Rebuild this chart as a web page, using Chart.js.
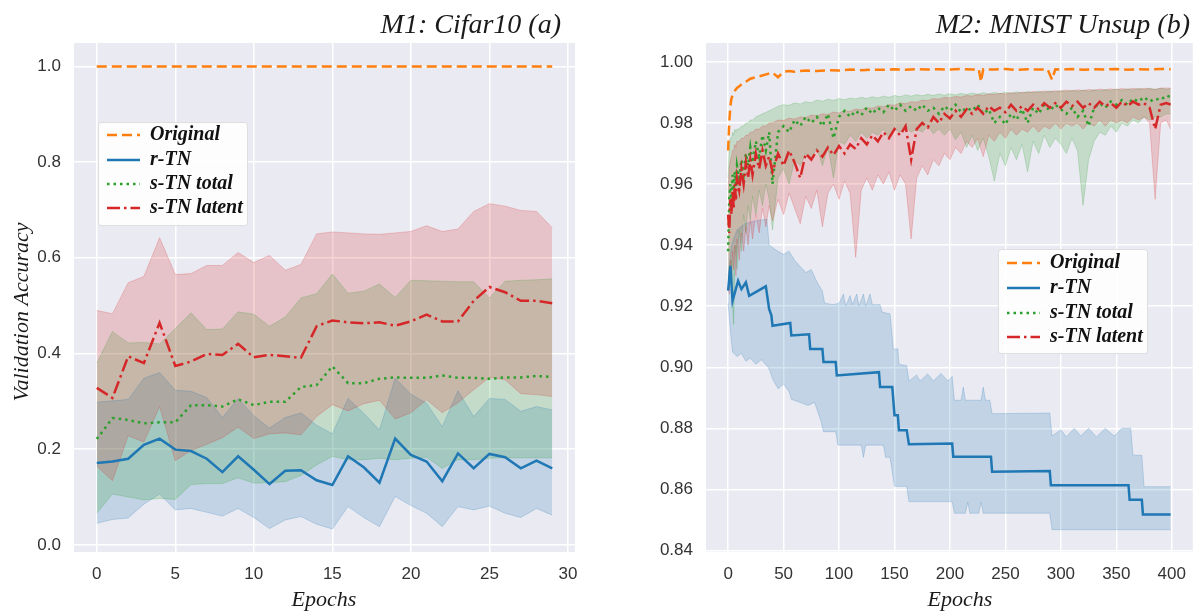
<!DOCTYPE html>
<html><head><meta charset="utf-8">
<script src="https://cdn.jsdelivr.net/npm/chart.js@4.4.1/dist/chart.umd.min.js"></script>
<style>
html,body{margin:0;padding:0;background:#fff;}
#wrap{position:relative;width:1198px;height:613px;overflow:hidden;background:#fff;}
#c1{position:absolute;left:0;top:0;}
#c2{position:absolute;left:600px;top:0;}
</style></head><body>
<div id="wrap"><canvas id="c1" width="600" height="613"></canvas><canvas id="c2" width="598" height="613"></canvas></div>
<script>
// ---------- series names ----------
const seriesNames = ['Original', 'r-TN', 's-TN total', 's-TN latent'];

// ---------- Panel (a): M1 Cifar10 ----------
const epochsA = [0,1,2,3,4,5,6,7,8,9,10,11,12,13,14,15,16,17,18,19,20,21,22,23,24,25,26,27,28,29];
const origA   = [1,1,1,1,1,1,1,1,1,1,1,1,1,1,1,1,1,1,1,1,1,1,1,1,1,1,1,1,1,1];
const rtnA    = [0.171,0.174,0.180,0.209,0.222,0.199,0.196,0.180,0.152,0.185,0.157,0.127,0.155,0.156,0.135,0.125,0.185,0.162,0.130,0.222,0.188,0.174,0.133,0.191,0.160,0.190,0.183,0.160,0.176,0.160];
const rtnLoA  = [0.045,0.053,0.056,0.085,0.106,0.073,0.076,0.068,0.060,0.076,0.057,0.034,0.052,0.059,0.043,0.033,0.080,0.057,0.038,0.101,0.082,0.066,0.038,0.080,0.073,0.081,0.066,0.057,0.076,0.062];
const rtnHiA  = [0.298,0.301,0.304,0.348,0.360,0.323,0.321,0.308,0.266,0.306,0.270,0.244,0.266,0.276,0.250,0.232,0.306,0.275,0.240,0.348,0.315,0.296,0.247,0.322,0.268,0.306,0.304,0.279,0.289,0.282];
const totA    = [0.221,0.265,0.261,0.254,0.256,0.256,0.292,0.292,0.289,0.304,0.292,0.299,0.299,0.330,0.334,0.373,0.338,0.338,0.347,0.350,0.349,0.349,0.354,0.349,0.349,0.347,0.350,0.350,0.353,0.351];
const totLoA  = [0.066,0.106,0.100,0.094,0.097,0.095,0.126,0.128,0.128,0.140,0.129,0.130,0.132,0.145,0.167,0.185,0.178,0.178,0.181,0.178,0.181,0.183,0.160,0.178,0.178,0.181,0.182,0.182,0.182,0.182];
const totHiA  = [0.380,0.446,0.422,0.423,0.420,0.452,0.485,0.450,0.451,0.487,0.482,0.457,0.476,0.516,0.525,0.566,0.526,0.530,0.545,0.517,0.553,0.552,0.551,0.550,0.550,0.516,0.551,0.553,0.554,0.556];
const latA    = [0.328,0.307,0.394,0.380,0.464,0.374,0.383,0.399,0.397,0.420,0.392,0.397,0.394,0.391,0.457,0.469,0.465,0.463,0.465,0.458,0.467,0.481,0.467,0.467,0.510,0.539,0.528,0.510,0.510,0.505];
const latLoA  = [0.164,0.134,0.228,0.215,0.289,0.176,0.197,0.210,0.224,0.246,0.222,0.232,0.234,0.230,0.268,0.293,0.280,0.295,0.302,0.263,0.276,0.303,0.276,0.297,0.324,0.350,0.345,0.316,0.314,0.310];
const latHiA  = [0.490,0.483,0.548,0.561,0.642,0.565,0.567,0.584,0.584,0.611,0.590,0.605,0.574,0.586,0.650,0.654,0.652,0.650,0.649,0.652,0.655,0.667,0.655,0.660,0.697,0.713,0.708,0.699,0.697,0.663];

// ---------- Panel (b): M2 MNIST Unsup ----------
const origXB = [0,1,2,3,4,6,8,10,13,16,20,25,30,35,40,45,50,55,60,70,80,90,100,110,120,130,140,150,160,170,180,190,200,210,220,226,228,230,240,250,260,270,280,288,292,295,300,310,320,330,340,350,360,370,380,390,399];
const origB  = [0.971,0.980,0.9855,0.988,0.989,0.9905,0.9915,0.992,0.993,0.9935,0.9945,0.995,0.9955,0.996,0.9965,0.995,0.9968,0.997,0.9968,0.9972,0.997,0.9973,0.9972,0.9975,0.9973,0.9975,0.9974,0.9976,0.9974,0.9976,0.9975,0.9976,0.9975,0.9977,0.9975,0.9976,0.9935,0.9976,0.9975,0.9977,0.9974,0.9976,0.9975,0.9976,0.9942,0.9976,0.9975,0.9977,0.9974,0.9976,0.9975,0.9977,0.9974,0.9976,0.9975,0.9977,0.9976];

const rtnXB  = [0,2,4,9,12,16,19,34,37,39,40,56,57,73,74,85,86,97,98,136,137,148,150,153,154,161,163,202,203,237,238,290,291,361,362,373,374,399];
const rtnB   = [0.9251,0.9332,0.9218,0.9283,0.9256,0.9278,0.9234,0.9265,0.9190,0.9170,0.9136,0.9145,0.9104,0.9108,0.9060,0.9060,0.9017,0.9017,0.8973,0.8984,0.8935,0.8935,0.8843,0.8843,0.8794,0.8794,0.8748,0.8750,0.8707,0.8707,0.8658,0.8660,0.8614,0.8614,0.8566,0.8566,0.8518,0.8518];
const rtnHiXB = [0,3,8,15,25,35,37,45,50,55,60,65,70,75,80,85,87,95,100,104,106,110,112,116,118,122,124,128,130,137,139,146,149,153,154,161,163,170,173,180,185,192,198,202,204,210,212,214,228,230,232,236,238,290,292,300,305,312,318,325,332,340,348,355,363,365,373,375,399];
const rtnHiB  = [0.930,0.940,0.945,0.947,0.948,0.9485,0.940,0.938,0.937,0.938,0.935,0.933,0.931,0.932,0.928,0.925,0.921,0.9205,0.921,0.924,0.920,0.9235,0.9205,0.924,0.920,0.924,0.920,0.924,0.9205,0.9205,0.918,0.9175,0.906,0.906,0.901,0.9005,0.8955,0.8975,0.8955,0.8978,0.8955,0.898,0.8955,0.897,0.8892,0.8892,0.8935,0.8892,0.8892,0.8935,0.8892,0.8892,0.8848,0.8850,0.8775,0.8795,0.8772,0.8800,0.8775,0.8800,0.8772,0.8800,0.8775,0.8800,0.8800,0.8712,0.8712,0.8609,0.8609];
const rtnLoXB = [0,2,4,8,12,16,20,25,30,36,38,40,45,50,55,57,65,72,78,84,86,97,99,120,122,124,140,142,146,150,161,163,202,204,214,216,218,226,228,230,290,292,399];
const rtnLoB  = [0.921,0.912,0.905,0.9035,0.9045,0.902,0.903,0.901,0.9025,0.900,0.8985,0.8962,0.893,0.8945,0.892,0.8895,0.8885,0.8875,0.8885,0.8820,0.8789,0.8789,0.8745,0.8745,0.8705,0.8745,0.8745,0.8705,0.8705,0.8610,0.8610,0.8560,0.8560,0.8522,0.8522,0.8558,0.8522,0.8522,0.8558,0.8522,0.8522,0.8468,0.8468];

const epochsB = [0,1,2,3,4,5,6,7,8,10,12,14,16,18,20,22,25,28,31,34,37,40,
  45,50,55,60,65,70,75,80,85,90,95,
  100,105,110,115,120,125,130,135,140,145,
  150,155,160,165,170,175,180,185,190,195,
  200,205,210,215,220,225,230,235,240,245,
  250,255,260,265,270,275,280,285,290,295,
  300,305,310,315,320,325,330,335,340,345,
  350,355,360,365,370,375,380,385,390,395,
  399];
const totB = [0.938,0.955,0.960,0.952,0.963,0.958,0.964,0.959,0.966,0.962,0.968,0.963,0.970,0.966,0.972,0.967,0.974,0.969,0.976,0.971,0.977,0.960,
  0.977,0.979,0.977,0.981,0.979,0.982,0.980,0.982,0.979,0.983,0.975,
  0.982,0.984,0.982,0.984,0.9825,0.985,0.983,0.985,0.9835,0.986,
  0.984,0.986,0.984,0.9855,0.984,0.986,0.984,0.985,0.983,0.9855,
  0.984,0.986,0.9835,0.985,0.984,0.986,0.983,0.9845,0.980,0.982,
  0.9795,0.983,0.981,0.9845,0.980,0.985,0.983,0.986,0.984,0.986,
  0.9845,0.983,0.985,0.982,0.984,0.979,0.985,0.9865,0.985,0.987,
  0.986,0.9875,0.986,0.988,0.987,0.9885,0.987,0.988,0.9875,0.989,
  0.9885];
const totLoB = [0.925,0.930,0.927,0.935,0.920,0.914,0.935,0.940,0.932,0.945,0.938,0.950,0.944,0.953,0.948,0.956,0.950,0.958,0.953,0.960,0.955,0.945,
  0.962,0.965,0.960,0.968,0.966,0.970,0.968,0.972,0.966,0.972,0.962,
  0.974,0.973,0.976,0.974,0.977,0.975,0.977,0.976,0.978,0.975,
  0.978,0.977,0.979,0.977,0.978,0.977,0.979,0.9765,0.978,0.976,
  0.978,0.9745,0.977,0.972,0.976,0.971,0.975,0.969,0.961,0.970,
  0.966,0.972,0.968,0.973,0.964,0.974,0.970,0.976,0.972,0.975,
  0.973,0.970,0.975,0.971,0.953,0.968,0.974,0.977,0.976,0.979,
  0.977,0.980,0.979,0.981,0.980,0.982,0.981,0.982,0.982,0.983,
  0.983];
const totHiB = [0.962,0.972,0.975,0.975,0.977,0.976,0.978,0.977,0.978,0.978,0.979,0.979,0.980,0.980,0.981,0.981,0.982,0.9825,0.983,0.9835,0.984,0.9845,
  0.9855,0.986,0.9858,0.9866,0.9862,0.987,0.9866,0.9875,0.9871,0.9878,0.9874,
  0.988,0.9876,0.9882,0.9879,0.9884,0.988,0.9886,0.9882,0.9888,0.9884,
  0.989,0.9886,0.9892,0.9888,0.9893,0.9889,0.9894,0.989,0.9895,0.9891,
  0.9896,0.9892,0.9897,0.9893,0.9898,0.9894,0.9899,0.9895,0.99,0.9896,
  0.9901,0.9897,0.9902,0.9898,0.9903,0.9899,0.9904,0.99,0.9905,0.9901,
  0.9906,0.9902,0.9907,0.9903,0.9908,0.9904,0.9909,0.9905,0.991,0.9906,
  0.9911,0.9907,0.9912,0.9908,0.9913,0.9909,0.9914,0.991,0.9914,0.991,
  0.9913];
const latB = [0.950,0.944,0.955,0.950,0.958,0.952,0.960,0.955,0.962,0.958,0.965,0.960,0.967,0.962,0.968,0.963,0.970,0.965,0.971,0.966,0.969,0.964,
  0.970,0.966,0.971,0.967,0.962,0.970,0.968,0.971,0.969,0.972,0.9695,
  0.9725,0.970,0.973,0.9715,0.975,0.973,0.976,0.974,0.977,0.975,
  0.978,0.976,0.979,0.968,0.978,0.980,0.9785,0.982,0.980,0.983,
  0.9815,0.984,0.982,0.9845,0.983,0.985,0.983,0.9855,0.984,0.985,
  0.9835,0.986,0.984,0.9855,0.984,0.986,0.9845,0.9865,0.985,0.9865,
  0.985,0.987,0.9855,0.987,0.985,0.9865,0.985,0.987,0.9855,0.9865,
  0.985,0.987,0.9855,0.987,0.986,0.9865,0.985,0.978,0.986,0.9865,
  0.986];
const latLoB = [0.930,0.924,0.935,0.928,0.938,0.932,0.940,0.930,0.942,0.935,0.944,0.938,0.946,0.940,0.948,0.942,0.950,0.944,0.952,0.946,0.953,0.948,
  0.955,0.950,0.957,0.952,0.947,0.956,0.952,0.958,0.946,0.957,0.960,
  0.955,0.961,0.957,0.936,0.958,0.962,0.958,0.963,0.960,0.964,
  0.958,0.963,0.960,0.942,0.962,0.966,0.963,0.968,0.966,0.970,
  0.968,0.972,0.970,0.974,0.972,0.975,0.969,0.976,0.974,0.977,
  0.975,0.978,0.976,0.978,0.977,0.979,0.977,0.979,0.978,0.980,
  0.978,0.980,0.979,0.980,0.978,0.980,0.979,0.981,0.979,0.981,
  0.980,0.981,0.980,0.982,0.981,0.982,0.980,0.955,0.980,0.981,
  0.978];
const latHiB = [0.958,0.965,0.968,0.969,0.971,0.971,0.973,0.972,0.974,0.974,0.975,0.975,0.976,0.976,0.977,0.977,0.978,0.978,0.979,0.979,0.980,0.980,
  0.981,0.9808,0.9816,0.9813,0.982,0.9818,0.9826,0.9823,0.983,0.9828,0.9836,
  0.9833,0.984,0.9838,0.9846,0.9843,0.985,0.9848,0.9856,0.9853,0.986,
  0.9858,0.9866,0.9863,0.987,0.9868,0.9875,0.9873,0.988,0.9878,0.9884,
  0.9882,0.9887,0.9885,0.989,0.9888,0.9893,0.989,0.9895,0.9893,0.9897,
  0.9895,0.9899,0.9897,0.9901,0.9899,0.9903,0.9901,0.9905,0.9902,0.9906,
  0.9904,0.9908,0.9905,0.9909,0.9906,0.991,0.9907,0.9911,0.9908,0.9912,
  0.9909,0.9913,0.991,0.9914,0.9911,0.9914,0.9912,0.991,0.9914,0.9915,
  0.9914];

// ---------- styling ----------
const COLORS = ['#ff7f0e', '#1f77b4', '#2ca02c', '#d62728'];
const BANDS  = ['rgba(255,127,14,0.2)', 'rgba(31,119,180,0.2)', 'rgba(44,160,44,0.2)', 'rgba(214,39,40,0.2)'];
const EDGES  = ['rgba(255,127,14,0.2)', 'rgba(31,119,180,0.22)', 'rgba(44,160,44,0.22)', 'rgba(214,39,40,0.22)'];
const DASHES = [[10, 5], [], [2.5, 4], [13, 4, 2.5, 4]];
const LW = 2.5;

function pts(xs, ys) { return xs.map((x, i) => ({x: x, y: ys[i]})); }
function band(idx, xsLo, lo, xsHi, hi) {
  return [
    {label: seriesNames[idx] + ' lo', data: pts(xsLo, lo), borderColor: EDGES[idx], borderWidth: 1, pointRadius: 0, fill: false, order: 10, tension: 0},
    {label: seriesNames[idx] + ' hi', data: pts(xsHi, hi), borderColor: EDGES[idx], borderWidth: 1, pointRadius: 0, fill: '-1', backgroundColor: BANDS[idx], order: 10, tension: 0}
  ];
}
function line(idx, xs, ys) {
  return {label: seriesNames[idx], data: pts(xs, ys), borderColor: COLORS[idx], borderWidth: LW, borderDash: DASHES[idx], pointRadius: 0, fill: false, order: 3 - idx, tension: 0};
}

const SERIF = '"Liberation Serif", "DejaVu Serif", serif';
const SANS = '"Liberation Sans", Arial, sans-serif';

function roundRect(ctx, x, y, w, h, r) {
  ctx.beginPath();
  ctx.moveTo(x + r, y);
  ctx.lineTo(x + w - r, y); ctx.quadraticCurveTo(x + w, y, x + w, y + r);
  ctx.lineTo(x + w, y + h - r); ctx.quadraticCurveTo(x + w, y + h, x + w - r, y + h);
  ctx.lineTo(x + r, y + h); ctx.quadraticCurveTo(x, y + h, x, y + h - r);
  ctx.lineTo(x, y + r); ctx.quadraticCurveTo(x, y, x + r, y);
  ctx.closePath();
}

const deco = {
  id: 'deco',
  beforeDraw(chart) {
    const {ctx, chartArea: a} = chart;
    ctx.save();
    ctx.fillStyle = '#EAEAF2';
    ctx.fillRect(a.left, a.top, a.right - a.left, a.bottom - a.top);
    ctx.restore();
  },
  afterDraw(chart, args, o) {
    const ctx = chart.ctx;
    ctx.save();
    ctx.fillStyle = '#1a1a1a';
    ctx.font = 'italic 28px ' + SERIF;
    ctx.textAlign = 'right'; ctx.textBaseline = 'alphabetic';
    ctx.fillText(o.title, o.titleX, o.titleY);
    ctx.font = 'italic 22px ' + SERIF;
    ctx.textAlign = 'center';
    ctx.fillText(o.xLabel, o.xLabelX, o.xLabelY);
    if (o.yLabel) {
      ctx.save();
      ctx.translate(o.yLabelX, o.yLabelY);
      ctx.rotate(-Math.PI / 2);
      ctx.fillText(o.yLabel, 0, 0);
      ctx.restore();
    }
    const L = o.legend;
    ctx.fillStyle = 'rgba(255,255,255,0.88)';
    ctx.strokeStyle = 'rgba(220,220,220,0.9)';
    ctx.lineWidth = 1;
    roundRect(ctx, L.x + 0.5, L.y + 0.5, L.w, L.h, 3);
    ctx.fill(); ctx.stroke();
    seriesNames.forEach((name, i) => {
      const yy = L.rows[i];
      ctx.strokeStyle = COLORS[i];
      ctx.lineWidth = LW;
      ctx.setLineDash(DASHES[i]);
      ctx.beginPath(); ctx.moveTo(L.sx0, yy); ctx.lineTo(L.sx1, yy); ctx.stroke();
      ctx.setLineDash([]);
      ctx.fillStyle = '#111';
      ctx.font = 'italic bold 20px ' + SERIF;
      ctx.textAlign = 'left'; ctx.textBaseline = 'middle';
      ctx.fillText(name, L.tx, yy);
    });
    ctx.restore();
  }
};

function scales(xmin, xmax, xstep, ymin, ymax, ystep, ydec, yWidth) {
  return {
    x: {
      type: 'linear', min: xmin, max: xmax,
      border: {display: false},
      grid: {color: '#ffffff', lineWidth: 1.5, drawTicks: false},
      ticks: {stepSize: xstep, includeBounds: false, padding: 12, color: '#333', font: {family: SANS, size: 17},
              maxRotation: 0, autoSkip: false, callback: v => String(Math.round(v))},
      afterFit: s => { s.height = 61; }
    },
    y: {
      type: 'linear', min: ymin, max: ymax,
      border: {display: false},
      grid: {color: '#ffffff', lineWidth: 1.5, drawTicks: false},
      ticks: {stepSize: ystep, includeBounds: false, padding: 13, color: '#333', font: {family: SANS, size: 17},
              autoSkip: false, callback: v => Number(v).toFixed(ydec)},
      afterFit: s => { s.width = yWidth; }
    }
  };
}

const common = {
  responsive: false, animation: false, devicePixelRatio: 1, events: [],
  plugins: {legend: {display: false}, tooltip: {enabled: false}, filler: {drawTime: 'beforeDatasetsDraw'}}
};

new Chart(document.getElementById('c1'), {
  type: 'line',
  data: {datasets: [
    ...band(3, epochsA, latLoA, epochsA, latHiA),
    ...band(2, epochsA, totLoA, epochsA, totHiA),
    ...band(1, epochsA, rtnLoA, epochsA, rtnHiA),
    line(3, epochsA, latA),
    line(2, epochsA, totA),
    line(1, epochsA, rtnA),
    line(0, epochsA, origA)
  ]},
  options: Object.assign({}, common, {
    layout: {padding: {left: 0, top: 43, right: 25, bottom: 0}},
    scales: scales(-1.45, 30.45, 5, -0.015, 1.049, 0.2, 1, 74),
    plugins: Object.assign({}, common.plugins, {deco: {
      title: 'M1: Cifar10 (a)', titleX: 561, titleY: 33,
      xLabel: 'Epochs', xLabelX: 324, xLabelY: 606,
      yLabel: 'Validation Accuracy', yLabelX: 28, yLabelY: 312,
      legend: {x: 98, y: 122, w: 149, h: 103, sx0: 107, sx1: 140, tx: 150, rows: [135, 160, 184, 208]}
    }})
  }),
  plugins: [deco]
});

new Chart(document.getElementById('c2'), {
  type: 'line',
  data: {datasets: [
    ...band(3, epochsB, latLoB, epochsB, latHiB),
    ...band(2, epochsB, totLoB, epochsB, totHiB),
    ...band(1, rtnLoXB, rtnLoB, rtnHiXB, rtnHiB),
    line(3, epochsB, latB),
    line(2, epochsB, totB),
    line(1, rtnXB, rtnB),
    line(0, origXB, origB)
  ]},
  options: Object.assign({}, common, {
    layout: {padding: {left: 0, top: 43, right: 1, bottom: 0}},
    scales: scales(-19.95, 418.95, 50, 0.8395, 1.0062, 0.02, 2, 106),
    plugins: Object.assign({}, common.plugins, {deco: {
      title: 'M2: MNIST Unsup (b)', titleX: 590, titleY: 33,
      xLabel: 'Epochs', xLabelX: 360, xLabelY: 606,
      legend: {x: 398, y: 249, w: 149, h: 104, sx0: 407, sx1: 440, tx: 450, rows: [263, 288, 313, 337]}
    }})
  }),
  plugins: [deco]
});
</script>
</body></html>
